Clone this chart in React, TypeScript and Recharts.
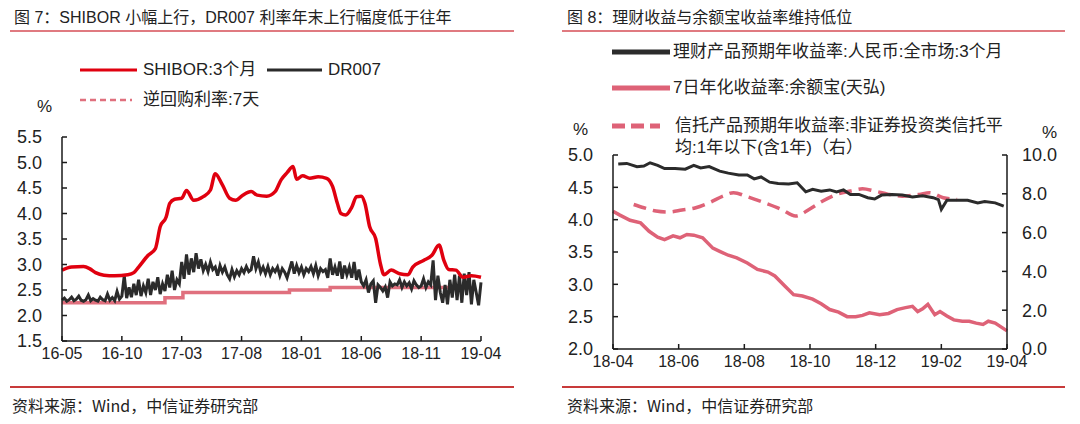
import React from "react";
import { LineChart, Line, XAxis, YAxis } from "recharts";

const FONT = '"Liberation Sans", Arial, "Noto Sans CJK SC", sans-serif';
const CJK = '"Noto Sans CJK SC", "Liberation Sans", sans-serif';

// ---- 图7 data (x = months since 2016-05)
const leftMonthLabels = ["16-05", "16-10", "17-03", "17-08", "18-01", "18-06", "18-11", "19-04"];
const leftYTicks = [1.5, 2.0, 2.5, 3.0, 3.5, 4.0, 4.5, 5.0, 5.5];

const shibor3m: [number, number][] = [
  [0, 2.89], [0.8, 2.95], [1.8, 2.96], [2.3, 2.92], [2.8, 2.84], [3.5, 2.79], [4.4, 2.78],
  [5.5, 2.8], [6.0, 2.84], [6.4, 2.95], [7.2, 3.18], [7.8, 3.31], [8.2, 3.74], [8.7, 3.93],
  [9.0, 4.2], [9.4, 4.28], [10.0, 4.3], [10.4, 4.45], [11.0, 4.26], [11.8, 4.33], [12.4, 4.46],
  [12.8, 4.78], [13.4, 4.56], [14.0, 4.3], [14.5, 4.26], [15.1, 4.36], [15.8, 4.43], [16.3, 4.36],
  [17.1, 4.34], [17.8, 4.43], [18.3, 4.66], [18.8, 4.8], [19.3, 4.92], [19.6, 4.67], [20.1, 4.74],
  [20.7, 4.69], [21.4, 4.72], [22.1, 4.69], [22.6, 4.53], [23.0, 4.2], [23.3, 4.0], [23.7, 3.97],
  [24.2, 4.12], [24.6, 4.33], [25.0, 4.34], [25.3, 4.2], [25.7, 3.74], [26.2, 3.51], [26.6, 3.01],
  [26.9, 2.8], [27.5, 2.89], [28.2, 2.82], [28.9, 2.8], [29.3, 2.95], [30.2, 3.08], [30.9, 3.18],
  [31.5, 3.38], [31.9, 3.08], [32.3, 2.9], [32.9, 2.89], [33.5, 2.75], [34.2, 2.78], [35.0, 2.75],
];

// five readings per month, 16-05 .. 19-04
const dr007: number[] = [
  2.30, 2.34, 2.28, 2.31, 2.36, 2.29, 2.32, 2.38, 2.30, 2.28,
  2.31, 2.40, 2.29, 2.33, 2.30, 2.28, 2.36, 2.31, 2.29, 2.42,
  2.30, 2.35, 2.29, 2.47, 2.32, 2.38, 2.78, 2.34, 2.55, 2.36,
  2.62, 2.40, 2.70, 2.38, 2.58, 2.45, 2.72, 2.40, 2.66, 2.50,
  2.75, 2.42, 2.62, 2.48, 2.80, 2.55, 2.88, 2.50, 2.70, 2.62,
  3.05, 2.72, 3.20, 2.80, 3.12, 2.85, 3.22, 2.92, 3.10, 2.88,
  3.00, 2.86, 3.05, 2.90, 2.95, 2.78, 2.98, 2.85, 2.95, 2.80,
  2.72, 2.90, 2.76, 2.88, 2.80, 2.92, 2.84, 2.96, 2.86, 2.90,
  3.16, 2.92, 3.05, 2.85, 2.95, 2.82, 2.96, 2.80, 2.92, 2.86,
  2.95, 2.78, 2.92, 2.85, 2.74, 2.90, 3.06, 2.82, 2.98, 2.84,
  2.95, 2.80, 2.92, 2.86, 2.96, 2.82, 2.98, 2.78, 2.92, 2.86,
  2.90, 2.74, 3.12, 2.80, 2.95, 2.78, 3.06, 2.72, 2.98, 2.80,
  2.95, 2.74, 3.05, 2.70, 2.90, 2.66, 2.58, 2.70, 2.45, 2.62,
  2.68, 2.25, 2.60, 2.55, 2.48, 2.56, 2.35, 2.66, 2.58, 2.62,
  2.60, 2.70, 2.55, 2.66, 2.58, 2.64, 2.52, 2.68, 2.60, 2.55,
  2.58, 2.72, 2.55, 2.66, 2.60, 3.08, 2.30, 2.78, 2.45, 2.25,
  2.60, 2.22, 2.70, 2.35, 2.80, 2.30, 2.78, 2.25, 2.82, 2.40,
  2.85, 2.22, 2.70, 2.45, 2.20, 2.65,
];

const reverseRepo7d: [number, number][] = [
  [0, 2.25], [8.6, 2.35], [10.1, 2.45], [19.0, 2.5], [22.4, 2.55], [34.2, 2.55],
];

// ---- 图8 data (x = months since 2018-04)
const rightMonthLabels = ["18-04", "18-06", "18-08", "18-10", "18-12", "19-02", "19-04"];
const rightLeftTicks = [2.0, 2.5, 3.0, 3.5, 4.0, 4.5, 5.0];
const rightRightTicks = [0, 2, 4, 6, 8, 10];

const wealthMgmt3m: [number, number][] = [
  [0.16, 4.86], [0.42, 4.87], [0.73, 4.82], [0.94, 4.83], [1.13, 4.88], [1.36, 4.84], [1.57, 4.79],
  [1.89, 4.79], [2.2, 4.78], [2.46, 4.84], [2.67, 4.8], [2.93, 4.82], [3.25, 4.75], [3.51, 4.72],
  [3.83, 4.69], [4.09, 4.69], [4.3, 4.63], [4.51, 4.66], [4.77, 4.58], [5.03, 4.56], [5.35, 4.55],
  [5.61, 4.57], [5.87, 4.43], [6.08, 4.47], [6.34, 4.44], [6.6, 4.46], [6.81, 4.43], [7.02, 4.46],
  [7.23, 4.39], [7.49, 4.39], [7.76, 4.34], [7.97, 4.32], [8.18, 4.38], [8.49, 4.39], [8.81, 4.38],
  [9.12, 4.35], [9.43, 4.37], [9.75, 4.34], [9.91, 4.31], [10.0, 4.16], [10.17, 4.3], [10.48, 4.3],
  [10.8, 4.3], [11.11, 4.26], [11.32, 4.28], [11.64, 4.26], [11.9, 4.21],
];

const yuebao7d: [number, number][] = [
  [0, 4.13], [0.21, 4.07], [0.52, 3.99], [0.84, 3.95], [1.1, 3.82], [1.36, 3.73], [1.57, 3.69],
  [1.83, 3.75], [2.04, 3.72], [2.25, 3.77], [2.46, 3.76], [2.73, 3.72], [3.04, 3.56], [3.25, 3.51],
  [3.51, 3.45], [3.77, 3.41], [4.09, 3.33], [4.4, 3.23], [4.72, 3.19], [4.93, 3.13], [5.24, 2.97],
  [5.5, 2.84], [5.77, 2.82], [6.08, 2.77], [6.34, 2.7], [6.6, 2.61], [6.87, 2.57], [7.13, 2.5],
  [7.39, 2.5], [7.6, 2.52], [7.81, 2.56], [8.12, 2.53], [8.39, 2.55], [8.65, 2.61], [8.91, 2.64],
  [9.12, 2.66], [9.28, 2.58], [9.43, 2.62], [9.59, 2.69], [9.8, 2.53], [9.96, 2.58], [10.17, 2.51],
  [10.38, 2.45], [10.64, 2.43], [10.85, 2.43], [11.06, 2.4], [11.27, 2.38], [11.43, 2.43],
  [11.64, 2.4], [12.0, 2.28],
];

const trustYield: [number, number][] = [
  [0.63, 7.45], [0.94, 7.28], [1.31, 7.11], [1.68, 7.06], [2.1, 7.16], [2.52, 7.28], [2.93, 7.54],
  [3.35, 7.88], [3.67, 8.06], [4.09, 7.85], [4.61, 7.54], [5.14, 7.19], [5.56, 6.85], [5.97, 7.19],
  [6.39, 7.63], [6.81, 7.97], [7.23, 8.14], [7.6, 8.26], [7.97, 8.14], [8.39, 7.97], [8.81, 7.88],
  [9.33, 7.97], [9.64, 8.06], [10.06, 7.8], [10.48, 7.71],
];

const toPts = (arr: [number, number][]) => arr.map(([m, v]) => ({ m, v }));
const dr007Pts = dr007.map((v, i) => ({ m: i / 5, v }));

const AXIS = "#1a1a1a";
const TEXT = "#222";

function makeTick(side: "left" | "right" | "bottom", margin: number, fontSize: number, fmt: (v: number) => string) {
  return (props: any) => {
    const { x, y, payload } = props;
    const label = fmt(payload.value);
    if (side === "bottom") {
      return (
        <g>
          <line x1={x} x2={x} y1={y - margin} y2={y - margin - 5} stroke={AXIS} strokeWidth={1.5} />
          <text x={x} y={y} dy="0.8em" textAnchor="middle" fontSize={fontSize} fill={TEXT} fontFamily={FONT}>
            {label}
          </text>
        </g>
      );
    }
    const ax = side === "left" ? x + margin : x - margin;
    const dir = side === "left" ? 5 : -5;
    return (
      <g>
        <line x1={ax} x2={ax + dir} y1={y} y2={y} stroke={AXIS} strokeWidth={1.5} />
        <text x={x} y={y} dy="0.36em" textAnchor={side === "left" ? "end" : "start"} fontSize={fontSize} fill={TEXT} fontFamily={FONT}>
          {label}
        </text>
      </g>
    );
  };
}

function LegendLine({ x1, x2, y, color, width, dash }: { x1: number; x2: number; y: number; color: string; width: number; dash?: string }) {
  return (
    <svg style={{ position: "absolute", left: x1, top: y - 5, overflow: "visible" }} width={x2 - x1} height={10}>
      <line x1={0} x2={x2 - x1} y1={5} y2={5} stroke={color} strokeWidth={width} strokeDasharray={dash} />
    </svg>
  );
}

function Label({ x, y, text, size = 17, family = FONT }: { x: number; y: number; text: string; size?: number; family?: string }) {
  return (
    <div style={{ position: "absolute", left: x, top: y - 11, height: 22, lineHeight: "22px", fontSize: size, whiteSpace: "nowrap", fontFamily: family, color: TEXT }}>
      {text}
    </div>
  );
}

function Rule({ x1, x2, y, color }: { x1: number; x2: number; y: number; color: string }) {
  return <div style={{ position: "absolute", left: x1, top: y, width: x2 - x1, height: 1.5, background: color }} />;
}

export default function App() {
  return (
    <div style={{ position: "absolute", left: 0, top: 0, width: 1080, height: 424, background: "#fff", fontFamily: FONT, overflow: "hidden" }}>
      {/* 图7 */}
      <Label x={14} y={18} size={16} text="图 7：SHIBOR 小幅上行，DR007 利率年末上行幅度低于往年" />
      <Rule x1={10} x2={514} y={30} color="#E07A80" />
      <LegendLine x1={80} x2={137} y={70} color="#E0000F" width={3} />
      <Label x={143} y={70} text="SHIBOR:3个月" />
      <LegendLine x1={267} x2={322} y={70} color="#2b2b2b" width={3} />
      <Label x={328} y={70} text="DR007" />
      <LegendLine x1={80} x2={132} y={100} color="#E0707E" width={2.5} dash="6 4" />
      <Label x={143} y={100} text="逆回购利率:7天" />
      <Label x={37} y={107} text="%" />

      <div style={{ position: "absolute", left: 0, top: 0 }}>
        <LineChart width={540} height={400} margin={{ top: 137, right: 59, bottom: 29, left: 0 }}>
          <XAxis
            dataKey="m"
            type="number"
            domain={[0, 35]}
            ticks={[0, 5, 10, 15, 20, 25, 30, 35]}
            height={30}
            tickSize={0}
            tickMargin={5}
            tickLine={false}
            axisLine={{ stroke: AXIS, strokeWidth: 1.5 }}
            tick={makeTick("bottom", 5, 16, (v) => leftMonthLabels[Math.round(v / 5)])}
            interval={0}
          />
          <YAxis
            type="number"
            domain={[1.5, 5.5]}
            ticks={leftYTicks}
            width={62}
            tickSize={0}
            tickMargin={20}
            tickLine={false}
            axisLine={{ stroke: AXIS, strokeWidth: 1.5 }}
            tick={makeTick("left", 20, 18, (v) => v.toFixed(1))}
            interval={0}
          />
          <Line data={toPts(reverseRepo7d)} dataKey="v" type="stepAfter" stroke="#E0707E" strokeWidth={3.5} dot={false} isAnimationActive={false} />
          <Line data={dr007Pts} dataKey="v" type="linear" stroke="#2b2b2b" strokeWidth={3} dot={false} isAnimationActive={false} />
          <Line data={toPts(shibor3m)} dataKey="v" type="monotone" stroke="#E0000F" strokeWidth={3.5} dot={false} isAnimationActive={false} />
        </LineChart>
      </div>

      <Rule x1={10} x2={514} y={386} color="#C83A3A" />
      <Label x={12} y={405} size={16} family={CJK} text="资料来源：Wind，中信证券研究部" />

      {/* 图8 */}
      <Label x={567} y={18} size={16} text="图 8：理财收益与余额宝收益率维持低位" />
      <Rule x1={562} x2={1065} y={30} color="#E07A80" />
      <LegendLine x1={612} x2={670} y={52} color="#2b2b2b" width={5} />
      <Label x={673} y={52} text="理财产品预期年收益率:人民币:全市场:3个月" />
      <LegendLine x1={612} x2={670} y={88} color="#DE6277" width={5} />
      <Label x={673} y={88} text="7日年化收益率:余额宝(天弘)" />
      <LegendLine x1={612} x2={660} y={126} color="#DE6277" width={5} dash="13 6" />
      <Label x={675} y={126} text="信托产品预期年收益率:非证券投资类信托平" />
      <Label x={675} y={148} text="均:1年以下(含1年)（右）" />
      <Label x={573} y={130} text="%" />
      <Label x={1042} y={133} text="%" />

      <div style={{ position: "absolute", left: 540, top: 0 }}>
        <LineChart width={540} height={400} margin={{ top: 155, right: 0, bottom: 21, left: 0 }}>
          <XAxis
            dataKey="m"
            type="number"
            domain={[0, 12]}
            ticks={[0, 2, 4, 6, 8, 10, 12]}
            height={30}
            tickSize={0}
            tickMargin={5}
            tickLine={false}
            axisLine={{ stroke: AXIS, strokeWidth: 1.5 }}
            tick={makeTick("bottom", 5, 16, (v) => rightMonthLabels[Math.round(v / 2)])}
            interval={0}
          />
          <YAxis
            yAxisId="left"
            type="number"
            domain={[2, 5]}
            ticks={rightLeftTicks}
            width={73}
            tickSize={0}
            tickMargin={20}
            tickLine={false}
            axisLine={{ stroke: AXIS, strokeWidth: 1.5 }}
            tick={makeTick("left", 20, 18, (v) => v.toFixed(1))}
            interval={0}
          />
          <YAxis
            yAxisId="right"
            orientation="right"
            type="number"
            domain={[0, 10]}
            ticks={rightRightTicks}
            width={73}
            tickSize={0}
            tickMargin={15}
            tickLine={false}
            axisLine={{ stroke: AXIS, strokeWidth: 1.5 }}
            tick={makeTick("right", 15, 18, (v) => v.toFixed(1))}
            interval={0}
          />
          <Line yAxisId="right" data={toPts(trustYield)} dataKey="v" type="monotone" stroke="#DE6277" strokeWidth={3.5} strokeDasharray="13 7" dot={false} isAnimationActive={false} />
          <Line yAxisId="left" data={toPts(yuebao7d)} dataKey="v" type="linear" stroke="#DE6277" strokeWidth={3.5} dot={false} isAnimationActive={false} />
          <Line yAxisId="left" data={toPts(wealthMgmt3m)} dataKey="v" type="linear" stroke="#2b2b2b" strokeWidth={3} dot={false} isAnimationActive={false} />
        </LineChart>
      </div>

      <Rule x1={562} x2={1065} y={386} color="#C83A3A" />
      <Label x={567} y={405} size={16} family={CJK} text="资料来源：Wind，中信证券研究部" />
    </div>
  );
}
